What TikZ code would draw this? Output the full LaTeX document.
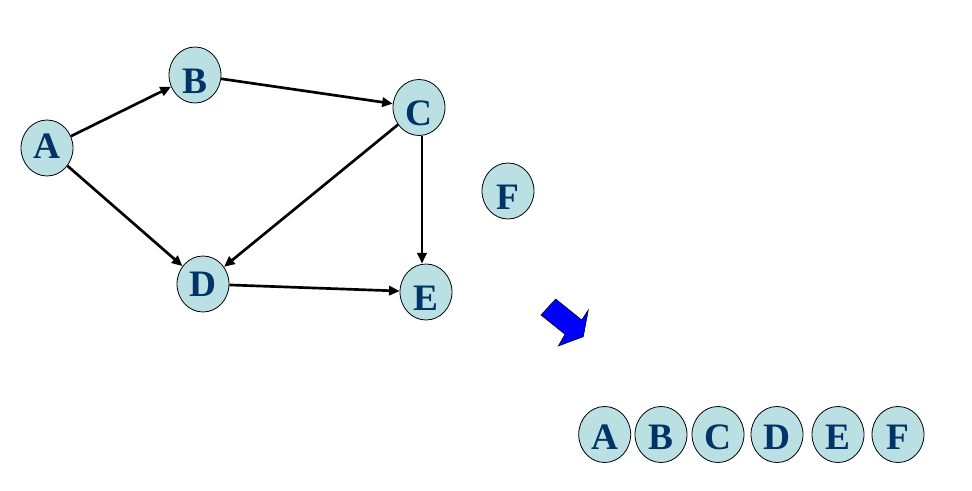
\documentclass[tikz,border=0pt]{standalone}
\usepackage{fontspec}
\setmainfont{Liberation Serif}
\usetikzlibrary{shapes.geometric,arrows.meta}
\definecolor{vfill}{RGB}{187,224,227}
\definecolor{vtext}{RGB}{0,51,102}
\definecolor{hintblue}{RGB}{0,0,255}
\begin{document}
\begin{tikzpicture}[x=0.75pt,y=-0.75pt,
  vbase/.style={ellipse, draw=black, line width=0.6pt, fill=vfill,
    minimum width=39pt, minimum height=42pt, inner sep=0pt},
  vtx/.style={vbase, label={[lbl]center:#1}},
  lbl/.style={text=vtext, font=\fontsize{28}{28}\selectfont\bfseries, yshift=-4.5pt},
  edge/.style={line width=2pt, -{Triangle[length=8pt,width=7pt]}}]
  \useasboundingbox (0,0) rectangle (972,491);

  % graph
  \node[vbase, label={[lbl, yshift=6pt]center:A}] (A) at (47,148) {};
  \node[vtx=B] (B) at (195,75) {};
  \node[vtx=C] (C) at (419,107.5) {};
  \node[vbase, label={[lbl, yshift=4.5pt]center:D}] (D) at (203,284) {};
  \node[vtx=E] (E) at (426,292) {};
  \node[vtx=F] (F) at (508,191) {};

  \draw[edge] (A) -- (B);
  \draw[edge] (A) -- (D);
  \draw[edge] (B) -- (C);
  \draw[edge] (C) -- (D);
  \draw[edge] ([xshift=2.25pt]C.south) -- ([xshift=-3pt]E.north);
  \draw[edge] (D) -- (E);

  % block arrow
  \fill[hintblue, draw=black, line width=0.4pt]
    (541,315) -- (555.7,299) -- (581.7,320) -- (588.3,310)
    -- (583.3,336.7) -- (558.3,346) -- (565,334.3) -- cycle;

  % resulting order
  \tikzset{lbl/.append style={yshift=2.5pt}}
  \node[vtx=A] (oA) at (604.7,434.5) {};
  \node[vtx=B] (oB) at (661,434.5) {};
  \node[vtx=C] (oC) at (718,434.5) {};
  \node[vtx=D] (oD) at (777,434.5) {};
  \node[vtx=E] (oE) at (838,434.5) {};
  \node[vtx=F] (oF) at (898,434.5) {};
\end{tikzpicture}
\end{document}
